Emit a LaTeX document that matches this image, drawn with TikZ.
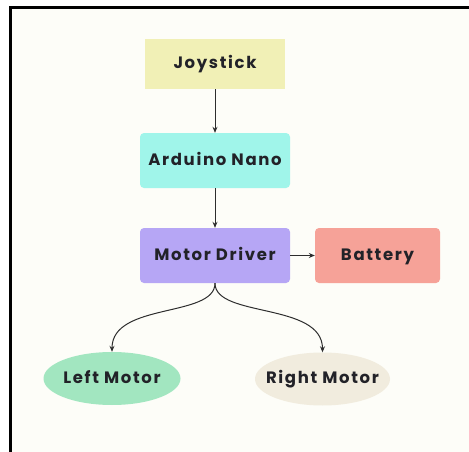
\documentclass[tikz,border=0pt]{standalone}
\usepackage{fontspec}
\setmainfont{Poppins}[LetterSpace=10]
\usetikzlibrary{shapes.geometric,arrows.meta}
\definecolor{bgc}{RGB}{253,253,248}
\definecolor{joyc}{RGB}{241,240,182}
\definecolor{arduc}{RGB}{160,245,234}
\definecolor{mdc}{RGB}{182,166,245}
\definecolor{batc}{RGB}{246,162,152}
\definecolor{lmc}{RGB}{162,230,192}
\definecolor{rmc}{RGB}{241,236,222}
\definecolor{txtc}{RGB}{34,34,40}
\definecolor{arrc}{RGB}{45,45,45}
\tikzset{
  lbl/.style={font=\fontsize{16.5}{19}\selectfont\bfseries, text=txtc, text height=12pt, text depth=3pt, inner sep=0pt},
  box/.style={lbl, rectangle, rounded corners=4pt, minimum width=150, minimum height=55},
  ell/.style={lbl, ellipse, inner xsep=-35pt, minimum width=137, minimum height=53},
  arr/.style={draw=arrc, line width=1pt, -{Stealth[length=6pt,width=5pt]}}
}
\begin{document}
\begin{tikzpicture}[x=1pt,y=-1pt]
\useasboundingbox (0,0) rectangle (469,452);
\fill[bgc] (10.5,7.5) rectangle (469,452);
\draw[line width=3pt] (10.5,452) -- (10.5,7.5) -- (469,7.5);
\node[box, rounded corners=0pt, fill=joyc, minimum width=140, minimum height=50] (joy) at (215,64) {Joystick};
\node[box, fill=arduc] (ard) at (215,160.5) {Arduino Nano};
\node[box, fill=mdc] (md) at (215,255.5) {Motor Driver};
\node[box, fill=batc, minimum width=125] (bat) at (377.5,255.5) {Battery};
\node[ell, fill=lmc] (lm) at (112,378.5) {Left Motor};
\node[ell, fill=rmc, minimum width=135] (rm) at (322.5,379) {Right Motor};
\draw[arr] (joy.south) -- (ard.north);
\draw[arr] (ard.south) -- (md.north);
\draw[arr] (md.east) -- (bat.west);
\draw[arr] (md.south) .. controls (215,318) and (112,302) .. (lm.north);
\draw[arr] (md.south) .. controls (215,318) and (322.5,302) .. (rm.north);
\end{tikzpicture}
\end{document}
